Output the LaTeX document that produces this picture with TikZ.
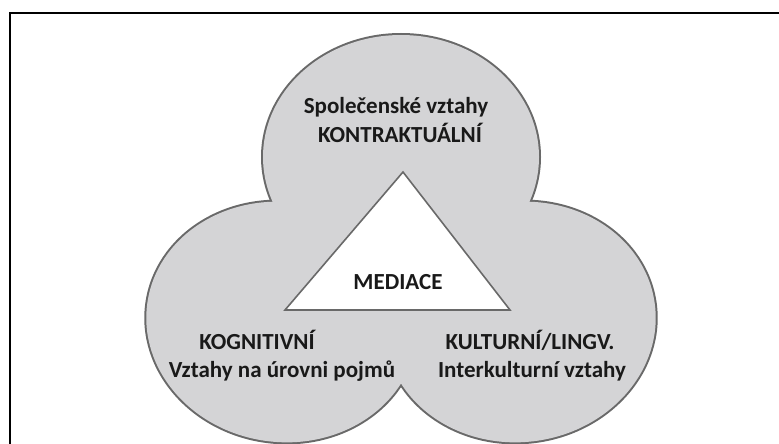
\documentclass[tikz,border=0pt]{standalone}
\usepackage{fontspec}
\setmainfont{Carlito}
\definecolor{lobefill}{RGB}{212,212,214}
\definecolor{lobeline}{RGB}{105,105,105}
\tikzset{
  lobe/.style={fill=lobefill},
  lobeedge/.style={draw=lobeline, line width=4pt},
  lbl/.style={align=center, font=\bfseries\fontsize{23}{29}\selectfont, text=black!90, inner sep=0pt},
  tri/.style={draw=lobeline, line width=1.6pt, fill=white, line join=miter}
}
\begin{document}
\begin{tikzpicture}[x=1pt,y=-1pt]
\useasboundingbox (0,0) rectangle (779,444);
\fill[white] (0,0) rectangle (779,444);
% frame (cropped: only top and left visible)
\draw[black, line width=2.2pt] (10,446) -- (10,13) -- (781,13);
% lobes: outline first, then fill to hide inner strokes
\path[lobeedge] (401,157) ellipse [x radius=138pt, y radius=122pt];
\path[lobeedge, rotate around={-8:(282,322)}] (282,322) ellipse [x radius=136pt, y radius=120pt];
\path[lobeedge, rotate around={8:(520,322)}] (520,322) ellipse [x radius=136pt, y radius=120pt];
\path[lobe] (401,157) ellipse [x radius=138pt, y radius=122pt];
\path[lobe, rotate around={-8:(282,322)}] (282,322) ellipse [x radius=136pt, y radius=120pt];
\path[lobe, rotate around={8:(520,322)}] (520,322) ellipse [x radius=136pt, y radius=120pt];
% triangle
\coordinate (apex) at (403,172);
\coordinate (bl) at (285,310);
\coordinate (br) at (510,310);
\draw[tri] (apex) -- (bl) -- (br) -- cycle;
% labels
\node[lbl, anchor=base] (top1) at (396,113) {Společenské vztahy};
\node[lbl, anchor=base] (top2) at (400,142) {KONTRAKTUÁLNÍ};
\node[lbl, anchor=base] (med) at (398,289) {MEDIACE};
\node[lbl, anchor=base] (kog1) at (257,349) {KOGNITIVNÍ};
\node[lbl, anchor=base] (kog2) at (282,377) {Vztahy na úrovni pojmů};
\node[lbl, anchor=base] (kul1) at (530,349) {KULTURNÍ/LINGV.};
\node[lbl, anchor=base] (kul2) at (532,377) {Interkulturní vztahy};
\end{tikzpicture}
\end{document}
